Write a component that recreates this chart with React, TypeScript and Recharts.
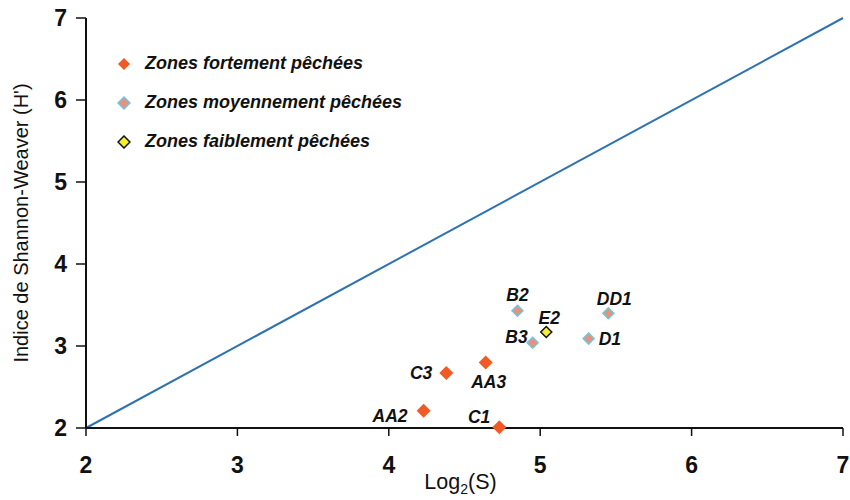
import {
    ScatterChart, Scatter, XAxis, YAxis, ReferenceLine,
} from 'recharts';

// Zones fortement pêchées
const fortementNames = ['AA2', 'C3', 'AA3', 'C1'];
const fortementLog2S = [4.23, 4.38, 4.64, 4.73];
const fortementH = [2.21, 2.67, 2.80, 2.01];

// Zones moyennement pêchées
const moyenNames = ['B2', 'B3', 'D1', 'DD1'];
const moyenLog2S = [4.85, 4.95, 5.32, 5.45];
const moyenH = [3.43, 3.04, 3.09, 3.40];

// Zones faiblement pêchées
const faibleNames = ['E2'];
const faibleLog2S = [5.04];
const faibleH = [3.17];

const axisTicks = [2, 3, 4, 5, 6, 7];
const diagonal = [{ x: 2, y: 2 }, { x: 7, y: 7 }];

const legendItems = [
    { label: 'Zones fortement pêchées', fill: '#f15a24', stroke: '#f15a24' },
    { label: 'Zones moyennement pêchées', fill: '#e8917c', stroke: '#72c6dc' },
    { label: 'Zones faiblement pêchées', fill: '#f6ee2e', stroke: '#111111' },
];

const build = (names: string[], xs: number[], ys: number[]) =>
    names.map((name, i) => ({ name, x: xs[i], y: ys[i] }));

const fortement = build(fortementNames, fortementLog2S, fortementH);
const moyen = build(moyenNames, moyenLog2S, moyenH);
const faible = build(faibleNames, faibleLog2S, faibleH);

// where each station label sits relative to its marker
const labelPlace: Record<string, { dx: number; dy: number; anchor: string }> = {
    B2: { dx: 0, dy: -10, anchor: 'middle' },
    E2: { dx: 3, dy: -8, anchor: 'middle' },
    DD1: { dx: 6, dy: -8, anchor: 'middle' },
    B3: { dx: -5, dy: 0, anchor: 'end' },
    D1: { dx: 10, dy: 6, anchor: 'start' },
    C3: { dx: -14, dy: 6, anchor: 'end' },
    AA3: { dx: 3, dy: 26, anchor: 'middle' },
    AA2: { dx: -16, dy: 11, anchor: 'end' },
    C1: { dx: -9, dy: -4, anchor: 'end' },
};

const FONT = '"Liberation Sans", Arial, sans-serif';
const labelFont = { fontFamily: FONT, fontWeight: 700, fontStyle: 'italic', fontSize: 17.5, fill: '#111' };

const makeShape = (fill: string, stroke: string, r: number, sw: number) => (props: any) => {
    const { cx, cy, payload } = props;
    const p = labelPlace[payload.name];
    return (
        <g>
            <polygon
                points={`${cx},${cy - r} ${cx + r},${cy} ${cx},${cy + r} ${cx - r},${cy}`}
                fill={fill}
                stroke={stroke}
                strokeWidth={sw}
            />
            <text x={cx + p.dx} y={cy + p.dy} textAnchor={p.anchor} style={labelFont}>
                {payload.name}
            </text>
        </g>
    );
};

const LegendBox = () => (
    <div style={{ position: 'absolute', left: 117, top: 52, display: 'flex', flexDirection: 'column', gap: 16 }}>
        {legendItems.map((it) => (
            <div key={it.label} style={{ display: 'flex', alignItems: 'center', height: 23 }}>
                <svg width={14} height={14} style={{ marginRight: 14 }}>
                    <polygon points="7,1 13,7 7,13 1,7" fill={it.fill} stroke={it.stroke} strokeWidth={it.stroke === it.fill ? 0 : 1.5} />
                </svg>
                <span style={{ fontFamily: FONT, fontWeight: 700, fontStyle: 'italic', fontSize: 18, color: '#111' }}>{it.label}</span>
            </div>
        ))}
    </div>
);

const YLabel = ({ viewBox }: any) => (
    <text
        transform={`translate(${viewBox.x + 28}, ${viewBox.y + viewBox.height / 2}) rotate(-90)`}
        textAnchor="middle"
        style={{ fontFamily: FONT, fontSize: 20, fill: '#111' }}
    >
        Indice de Shannon-Weaver (H')
    </text>
);

const XLabel = ({ viewBox }: any) => (
    <text
        x={viewBox.x + viewBox.width / 2 - 4}
        y={viewBox.y + 61}
        textAnchor="middle"
        style={{ fontFamily: FONT, fontSize: 21.5, fill: '#111' }}
    >
        Log<tspan fontSize={14} dy={5}>2</tspan><tspan dy={-5}>(S)</tspan>
    </text>
);

const tickStyle = { fill: '#111', fontSize: 23, fontWeight: 700, fontFamily: FONT };

export default function App() {
    return (
        <div style={{ position: 'absolute', left: 0, top: 0, width: 850, height: 500, background: '#fff' }}>
            <ScatterChart width={850} height={500} margin={{ top: 18, right: 7, bottom: 12, left: 0 }}>
                <XAxis
                    type="number"
                    dataKey="x"
                    domain={[2, 7]}
                    ticks={axisTicks}
                    height={60}
                    tick={tickStyle}
                    tickSize={8}
                    tickMargin={21}
                    axisLine={{ stroke: '#111', strokeWidth: 2 }}
                    tickLine={{ stroke: '#111', strokeWidth: 1.5 }}
                    label={<XLabel />}
                />
                <YAxis
                    type="number"
                    dataKey="y"
                    domain={[2, 7]}
                    ticks={axisTicks}
                    width={86}
                    tick={tickStyle}
                    tickSize={10}
                    tickMargin={9}
                    axisLine={{ stroke: '#111', strokeWidth: 2 }}
                    tickLine={{ stroke: '#111', strokeWidth: 1.5 }}
                    label={<YLabel />}
                />
                <ReferenceLine segment={diagonal} stroke="#2e72b0" strokeWidth={2} ifOverflow="visible" />
                <Scatter name="Zones fortement pêchées" data={fortement} shape={makeShape('#f15a24', '#f15a24', 7, 0)} isAnimationActive={false} />
                <Scatter name="Zones moyennement pêchées" data={moyen} shape={makeShape('#e8917c', '#72c6dc', 5.5, 1.5)} isAnimationActive={false} />
                <Scatter name="Zones faiblement pêchées" data={faible} shape={makeShape('#f6ee2e', '#111111', 5.5, 1.5)} isAnimationActive={false} />
            </ScatterChart>
            <LegendBox />
        </div>
    );
}
